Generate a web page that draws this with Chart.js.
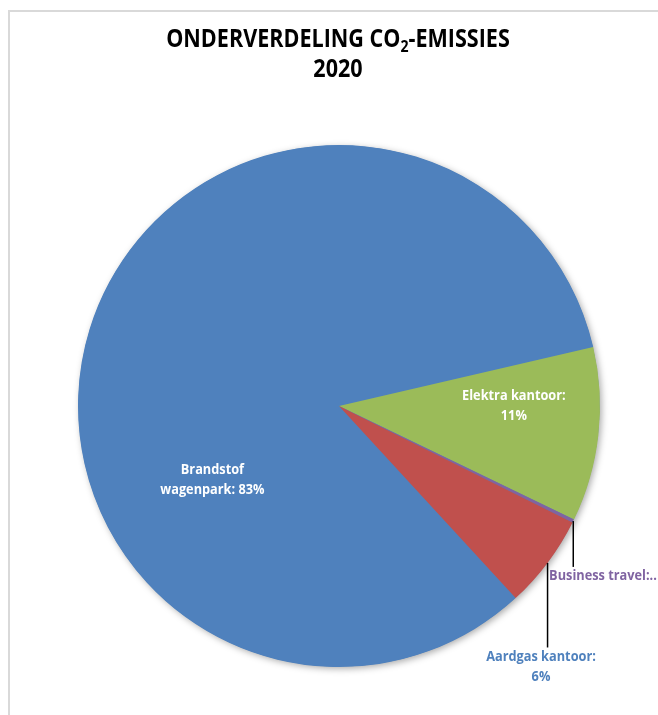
<!DOCTYPE html>
<html>
<head>
<meta charset="utf-8">
<script src="https://cdn.jsdelivr.net/npm/chart.js@4.4.1/dist/chart.umd.min.js"></script>
<style>
  html, body { margin: 0; padding: 0; background: #ffffff; overflow: hidden; }
  #wrap { position: absolute; left: 0; top: 0; width: 658px; height: 715px; }
</style>
</head>
<body>
<div id="wrap"><canvas id="c" width="658" height="715"></canvas></div>
<script>
// ---- data ----
const categories = ['Brandstof wagenpark', 'Elektra kantoor', 'Business travel', 'Aardgas kantoor'];
const values = [83.2, 10.8, 0.2, 5.8];
const colors = ['#4F81BD', '#9BBB59', '#8064A2', '#C0504D'];
const labelColors = ['#ffffff', '#ffffff', '#8064A2', '#4F81BD'];
const titleLine1 = ['ONDERVERDELING CO', '2', '-EMISSIES'];
const titleLine2 = '2020';

const pct = values.map(v => Math.round(v));
const labelLines = [
  ['Brandstof', 'wagenpark: ' + pct[0] + '%'],
  ['Elektra kantoor:', pct[1] + '%'],
  ['Business travel:..'],
  ['Aardgas kantoor:', pct[3] + '%']
];
// label placement relative to pie centre, in units of radius
const labelPlace = [
  { dx: -0.485, dy: 0.282, align: 'center' },
  { dx: 0.670, dy: 0.000, align: 'center' },
  { dx: 0.805, dy: 0.651, align: 'left', leader: true },
  { dx: 0.774, dy: 0.998, align: 'center', leader: true }
];

const FONT = '"Open Sans", Lato, sans-serif';
const SQUEEZE = 0.88; // horizontal compression to mimic a narrow sans

function fillSqueezed(ctx, text, x, y, align) {
  const w = ctx.measureText(text).width * SQUEEZE;
  let left = x;
  if (align === 'center') left = x - w / 2;
  else if (align === 'right') left = x - w;
  ctx.save();
  ctx.textAlign = 'left';
  ctx.translate(left, y);
  ctx.scale(SQUEEZE, 1);
  ctx.fillText(text, 0, 0);
  ctx.restore();
  return w;
}

const framePlugin = {
  id: 'frame',
  beforeDraw(chart) {
    const ctx = chart.ctx;
    ctx.save();
    ctx.strokeStyle = '#d9d9d9';
    ctx.lineWidth = 2;
    ctx.strokeRect(9, 11, 720, 760);
    ctx.restore();
  }
};

const titlePlugin = {
  id: 'subTitle',
  afterDraw(chart) {
    const ctx = chart.ctx;
    const cx = 338;
    ctx.save();
    ctx.fillStyle = '#000000';
    ctx.textBaseline = 'alphabetic';
    const big = 'bold 24.5px ' + FONT;
    const small = 'bold 16px ' + FONT;
    ctx.font = big;
    const w1 = ctx.measureText(titleLine1[0]).width * SQUEEZE;
    const w3 = ctx.measureText(titleLine1[2]).width * SQUEEZE;
    ctx.font = small;
    const w2 = ctx.measureText(titleLine1[1]).width * SQUEEZE;
    const total = w1 + w2 + w3;
    let x = cx - total / 2;
    const base1 = 47;
    ctx.font = big;
    fillSqueezed(ctx, titleLine1[0], x, base1, 'left');
    x += w1;
    ctx.font = small;
    fillSqueezed(ctx, titleLine1[1], x, base1 + 4.5, 'left');
    x += w2;
    ctx.font = big;
    fillSqueezed(ctx, titleLine1[2], x, base1, 'left');
    fillSqueezed(ctx, titleLine2, cx, 77, 'center');
    ctx.restore();
  }
};

const shadowPlugin = {
  id: 'pieShadow',
  beforeDatasetsDraw(chart) {
    const meta = chart.getDatasetMeta(0);
    const arc = meta.data[0];
    if (!arc) return;
    const ctx = chart.ctx;
    ctx.save();
    ctx.shadowColor = 'rgba(0,0,0,0.35)';
    ctx.shadowBlur = 7;
    ctx.shadowOffsetX = 2;
    ctx.shadowOffsetY = 2;
    ctx.fillStyle = '#4F81BD';
    ctx.beginPath();
    ctx.arc(arc.x, arc.y, arc.outerRadius - 0.5, 0, Math.PI * 2);
    ctx.fill();
    ctx.restore();
  }
};

const labelPlugin = {
  id: 'sliceLabels',
  afterDatasetsDraw(chart) {
    const meta = chart.getDatasetMeta(0);
    const ctx = chart.ctx;
    const lh = 20;
    ctx.save();
    ctx.font = 'bold 14.5px ' + FONT;
    ctx.textBaseline = 'middle';
    meta.data.forEach((arc, i) => {
      const p = labelPlace[i];
      const r = arc.outerRadius;
      const lx = arc.x + p.dx * r;
      const ly = arc.y + p.dy * r;
      const lines = labelLines[i];
      const top = ly - (lines.length - 1) * lh / 2;
      if (p.leader) {
        const mid = (arc.startAngle + arc.endAngle) / 2;
        const ex = arc.x + Math.cos(mid) * r;
        const ey = arc.y + Math.sin(mid) * r;
        ctx.strokeStyle = '#000000';
        ctx.lineWidth = 1.5;
        ctx.beginPath();
        ctx.moveTo(ex, ey);
        ctx.lineTo(ex, top - 9);
        ctx.stroke();
      }
      ctx.fillStyle = labelColors[i];
      lines.forEach((t, k) => fillSqueezed(ctx, t, lx, top + k * lh, p.align));
    });
    ctx.restore();
  }
};

new Chart(document.getElementById('c'), {
  type: 'pie',
  data: {
    labels: categories,
    datasets: [{
      data: values,
      backgroundColor: colors,
      borderWidth: 0
    }]
  },
  options: {
    responsive: false,
    animation: false,
    rotation: 137.4,
    layout: { padding: { top: 145, bottom: 48, left: 78, right: 58 } },
    plugins: {
      legend: { display: false },
      title: { display: false },
      tooltip: { enabled: false }
    }
  },
  plugins: [framePlugin, shadowPlugin, labelPlugin, titlePlugin]
});
</script>
</body>
</html>
